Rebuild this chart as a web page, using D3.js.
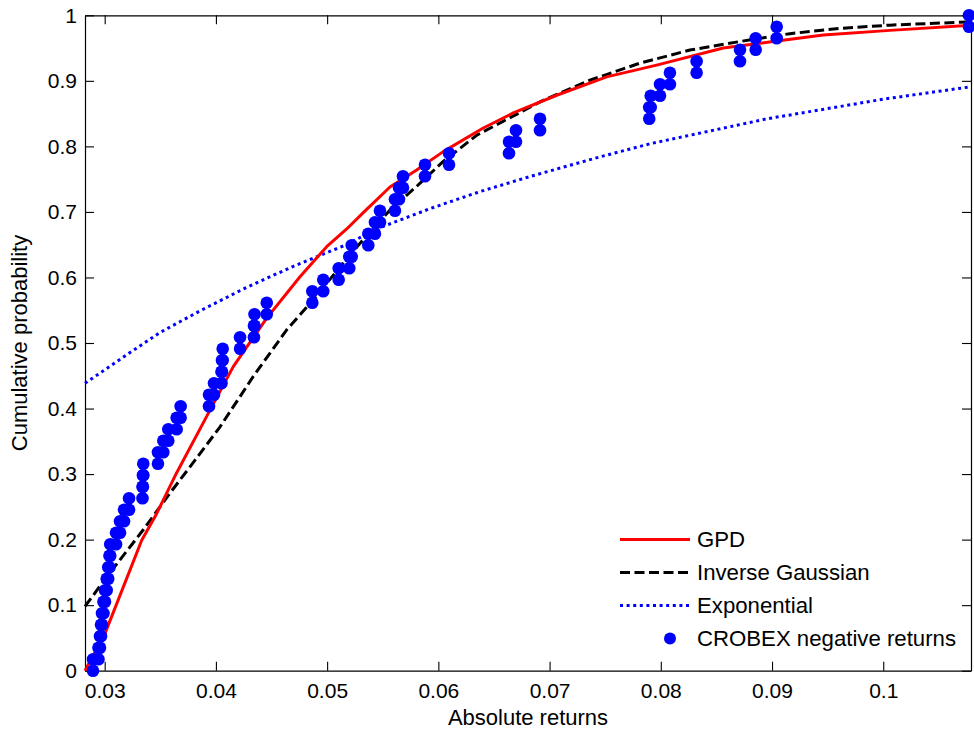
<!DOCTYPE html>
<html>
<head>
<meta charset="utf-8">
<script src="https://cdn.jsdelivr.net/npm/d3@7"></script>
<style>
  html, body { margin: 0; padding: 0; background: #fff; }
  svg { display: block; font-family: "Liberation Sans", Arial, Helvetica, sans-serif; }
</style>
</head>
<body>
<svg id="chart" width="974" height="733"></svg>
<script>
// ---------------- data ----------------
const xTicks = [0.03, 0.04, 0.05, 0.06, 0.07, 0.08, 0.09, 0.1];
const xTickLabels = ["0.03", "0.04", "0.05", "0.06", "0.07", "0.08", "0.09", "0.1"];
const yTicks = [0, 0.1, 0.2, 0.3, 0.4, 0.5, 0.6, 0.7, 0.8, 0.9, 1];
const yTickLabels = ["0", "0.1", "0.2", "0.3", "0.4", "0.5", "0.6", "0.7", "0.8", "0.9", "1"];

// sorted CROBEX absolute negative returns (empirical sample)
const crobexReturns = [
  0.02895, 0.02944, 0.02958, 0.02967, 0.02976, 0.02989, 0.03003, 0.03018, 0.03032, 0.03043,
  0.03050, 0.03102, 0.03138, 0.03174, 0.03219, 0.03340, 0.03344, 0.03347, 0.03479, 0.03527,
  0.03572, 0.03647, 0.03683, 0.03938, 0.03983, 0.04050, 0.04055, 0.04061, 0.04217, 0.04342,
  0.04347, 0.04457, 0.04867, 0.04965, 0.05104, 0.05199, 0.05221, 0.05370, 0.05430, 0.05475,
  0.05610, 0.05646, 0.05682, 0.05880, 0.06096, 0.06635, 0.06698, 0.06914, 0.07896, 0.07909,
  0.07993, 0.08082, 0.08322, 0.08712, 0.08853, 0.09042, 0.10771
];
// empirical probability levels (step heights)
const ecdfLevels = [
  0.0000, 0.0175, 0.0351, 0.0526, 0.0702, 0.0877, 0.1053, 0.1228, 0.1404, 0.1579,
  0.1754, 0.1930, 0.2105, 0.2281, 0.2456, 0.2632, 0.2807, 0.2982, 0.3158, 0.3333,
  0.3509, 0.3684, 0.3860, 0.4035, 0.4211, 0.4386, 0.4561, 0.4737, 0.4912, 0.5088,
  0.5263, 0.5439, 0.5614, 0.5789, 0.5965, 0.6140, 0.6316, 0.6491, 0.6667, 0.6842,
  0.7018, 0.7193, 0.7368, 0.7544, 0.7719, 0.7895, 0.8070, 0.8246, 0.8421, 0.8596,
  0.8772, 0.8947, 0.9123, 0.9298, 0.9474, 0.9649, 0.9825, 1.0000
];

// fitted distributions
const gpdX = [0.02823, 0.03003, 0.03333, 0.03468, 0.03632, 0.03917, 0.04156, 0.04457, 0.04756,
              0.04996, 0.05176, 0.05325, 0.05565, 0.05805, 0.06044, 0.06404, 0.06674, 0.07064, 0.07513,
              0.07963, 0.08562, 0.09011, 0.09461, 0.10060, 0.10789];
const gpdP = [0.000, 0.057, 0.199, 0.240, 0.297, 0.388, 0.464, 0.538, 0.601,
              0.647, 0.674, 0.699, 0.738, 0.764, 0.792, 0.828, 0.851, 0.878, 0.906,
              0.924, 0.950, 0.960, 0.970, 0.977, 0.985];

const invGaussX = [0.02823, 0.03018, 0.03347, 0.03587, 0.03767, 0.04037, 0.04336, 0.04636, 0.04876,
                   0.05145, 0.05295, 0.05565, 0.05805, 0.06044, 0.06345, 0.06749, 0.06914, 0.07363, 0.07813,
                   0.08262, 0.08712, 0.09161, 0.09611, 0.10060, 0.10789];
const invGaussP = [0.098, 0.143, 0.215, 0.271, 0.311, 0.372, 0.449, 0.520, 0.566,
                   0.622, 0.652, 0.703, 0.739, 0.777, 0.817, 0.853, 0.868, 0.901, 0.927,
                   0.947, 0.960, 0.972, 0.980, 0.985, 0.990];

const expX = [0.02823, 0.03198, 0.03497, 0.03857, 0.04277, 0.04696, 0.05145, 0.05475, 0.05925, 0.06374,
              0.06824, 0.07453, 0.07903, 0.08952, 0.10000, 0.10789];
const expP = [0.4385, 0.482, 0.516, 0.549, 0.585, 0.617, 0.648, 0.676, 0.705, 0.731,
              0.754, 0.784, 0.804, 0.842, 0.872, 0.891];

const legendLabels = ["GPD", "Inverse Gaussian", "Exponential", "CROBEX negative returns"];

// ---------------- layout ----------------
const svg = d3.select("#chart");
const L = 85, R = 971, T = 15.3, B = 670.7;
const x = d3.scaleLinear().domain([0.02823, 0.10789]).range([L, R]);
const y = d3.scaleLinear().domain([0, 1]).range([B, T]);
const tickLen = 9;

// axes
const gx = svg.append("g").attr("transform", `translate(0,${B})`)
  .call(d3.axisBottom(x).tickValues(xTicks).tickFormat((d, i) => xTickLabels[i])
        .tickSizeInner(-tickLen).tickSizeOuter(0).tickPadding(12.5));
const gxTop = svg.append("g").attr("transform", `translate(0,${T})`)
  .call(d3.axisTop(x).tickValues(xTicks).tickFormat("").tickSizeInner(-tickLen).tickSizeOuter(0));
const gy = svg.append("g").attr("transform", `translate(${L},0)`)
  .call(d3.axisLeft(y).tickValues(yTicks).tickFormat((d, i) => yTickLabels[i])
        .tickSizeInner(-tickLen).tickSizeOuter(0).tickPadding(8));
const gyRight = svg.append("g").attr("transform", `translate(${R},0)`)
  .call(d3.axisRight(y).tickValues(yTicks).tickFormat("").tickSizeInner(-tickLen).tickSizeOuter(0));

[gx, gxTop, gy, gyRight].forEach(g => {
  g.selectAll("path.domain").attr("stroke", "#000").attr("stroke-width", 1.2);
  g.selectAll(".tick line").attr("stroke", "#000").attr("stroke-width", 1.1);
  g.selectAll(".tick text").attr("fill", "#000").style("font-size", "21px")
    .style("font-family", '"Liberation Sans", Arial, sans-serif');
});

// axis labels
svg.append("text").attr("x", (L + R) / 2).attr("y", 725).attr("text-anchor", "middle")
  .style("font-size", "22px").attr("fill", "#000").text("Absolute returns");
svg.append("text").attr("transform", `translate(27,${(T + B) / 2}) rotate(-90)`)
  .attr("text-anchor", "middle").style("font-size", "22px").attr("fill", "#000")
  .text("Cumulative probability");

// curves
const line = d3.line().x(d => x(d[0])).y(d => y(d[1]));
const plot = svg.append("g");
plot.append("path").datum(expX.map((v, i) => [v, expP[i]])).attr("d", line)
  .attr("fill", "none").attr("stroke", "#0000ff").attr("stroke-width", 3)
  .attr("stroke-dasharray", "3,3.6");
plot.append("path").datum(invGaussX.map((v, i) => [v, invGaussP[i]])).attr("d", line)
  .attr("fill", "none").attr("stroke", "#000").attr("stroke-width", 3)
  .attr("stroke-dasharray", "10,4.5");
plot.append("path").datum(gpdX.map((v, i) => [v, gpdP[i]])).attr("d", line)
  .attr("fill", "none").attr("stroke", "#ff0000").attr("stroke-width", 3)
  .attr("stroke-linejoin", "round");

// empirical points: each return plotted at the lower and upper step level
const pts = [];
crobexReturns.forEach((v, i) => {
  pts.push([v, ecdfLevels[i]]);
  pts.push([v, ecdfLevels[i + 1]]);
});
plot.selectAll("circle.pt").data(pts).enter().append("circle").attr("class", "pt")
  .attr("cx", d => x(d[0])).attr("cy", d => y(d[1])).attr("r", 6.3).attr("fill", "#0000ff");

// legend
const lg = svg.append("g");
const rowY = [539.5, 572.5, 605.5, 638.5];
const lx0 = 620, lx1 = 690, tx = 697;
lg.append("line").attr("x1", lx0).attr("x2", lx1).attr("y1", rowY[0]).attr("y2", rowY[0])
  .attr("stroke", "#ff0000").attr("stroke-width", 3);
lg.append("line").attr("x1", lx0).attr("x2", lx1).attr("y1", rowY[1]).attr("y2", rowY[1])
  .attr("stroke", "#000").attr("stroke-width", 3).attr("stroke-dasharray", "10,4.5");
lg.append("line").attr("x1", lx0).attr("x2", lx1).attr("y1", rowY[2]).attr("y2", rowY[2])
  .attr("stroke", "#0000ff").attr("stroke-width", 3).attr("stroke-dasharray", "3,3.6");
lg.append("circle").attr("cx", 670).attr("cy", rowY[3]).attr("r", 6).attr("fill", "#0000ff");
legendLabels.forEach((t, i) => {
  lg.append("text").attr("x", tx).attr("y", rowY[i]).attr("dy", "0.36em")
    .style("font-size", "22.2px").attr("fill", "#000").text(t);
});
</script>
</body>
</html>
